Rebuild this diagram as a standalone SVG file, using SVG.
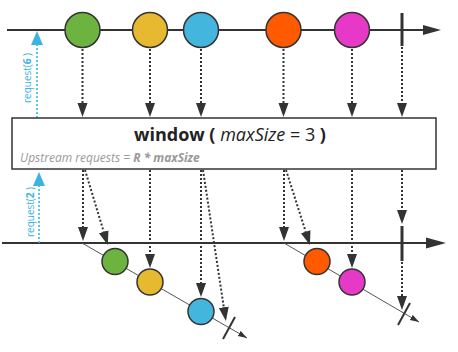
<svg xmlns="http://www.w3.org/2000/svg" width="458" height="352" viewBox="0 0 458 352">
<style>
.tl{stroke:#333;stroke-width:2;fill:none}
.dot{stroke:#333;stroke-width:2;stroke-dasharray:2 2;fill:none;marker-end:url(#ah)}
.req{stroke:#3cb4e2;stroke-width:1.6;stroke-dasharray:2 2;fill:none;marker-end:url(#ahc)}
.win{stroke:#555;stroke-width:1;fill:none;marker-end:url(#ahs)}
.bar{stroke:#333;stroke-width:3}
.slash{stroke:#333;stroke-width:2}
.c{stroke:#333;stroke-width:1.5}
.lbl{font-family:"Open Sans","DejaVu Sans",sans-serif;font-size:10px;fill:#3cb4e2}
</style>
<defs>
<marker id="ah" markerUnits="userSpaceOnUse" markerWidth="14" markerHeight="11" refX="0" refY="5" orient="auto"><path d="M0,0 L14,5 L0,10 z" fill="#333"/></marker>
<marker id="ahc" markerUnits="userSpaceOnUse" markerWidth="14" markerHeight="12" refX="0" refY="6" orient="auto"><path d="M0,0 L14,6 L0,12 z" fill="#3cb4e2"/></marker>
<marker id="ahs" markerUnits="userSpaceOnUse" markerWidth="10" markerHeight="7" refX="9" refY="3" orient="auto"><path d="M0,0 L9,3 L0,6 z" fill="#333"/></marker>
</defs>

<g id="connectors">
<line class="tl" x1="7" y1="30" x2="424" y2="30"/>
<polygon points="423,25 441,30 423,35" fill="#333"/>
<line class="tl" x1="2" y1="243" x2="427" y2="243"/>
<polygon points="426,237.5 446,243 426,248.5" fill="#333"/>
<line class="dot" x1="82.5" y1="49" x2="82.5" y2="103"/>
<line class="dot" x1="150" y1="49" x2="150" y2="103"/>
<line class="dot" x1="201" y1="49" x2="201" y2="103"/>
<line class="dot" x1="283.5" y1="49" x2="283.5" y2="103"/>
<line class="dot" x1="352" y1="49" x2="352" y2="103"/>
<line class="dot" x1="402" y1="47" x2="402" y2="103"/>
<line class="dot" x1="83" y1="170" x2="83" y2="227"/>
<line class="dot" x1="85" y1="170" x2="103.7" y2="231.7"/>
<line class="dot" x1="150" y1="170" x2="150" y2="254"/>
<line class="dot" x1="201" y1="170" x2="201" y2="283"/>
<line class="dot" x1="203" y1="170" x2="223.8" y2="307.2"/>
<line class="dot" x1="284" y1="170" x2="284" y2="227"/>
<line class="dot" x1="286" y1="170" x2="305.7" y2="231.7"/>
<line class="dot" x1="352" y1="170" x2="352" y2="254"/>
<line class="dot" x1="402" y1="170" x2="402" y2="210"/>
<line class="dot" x1="402" y1="262" x2="402" y2="296"/>
<line class="req" x1="37" y1="118" x2="37" y2="45"/>
<line class="req" x1="39" y1="243" x2="39" y2="186"/>
<line class="win" x1="82" y1="243" x2="247" y2="338"/>
<line class="win" x1="284" y1="243" x2="419" y2="322"/>
<line class="bar" x1="402" y1="13" x2="402" y2="46"/>
<line class="bar" x1="402" y1="226" x2="402" y2="261"/>
<line class="slash" x1="223" y1="339" x2="235" y2="317"/>
<line class="slash" x1="398" y1="325" x2="410" y2="303"/>
</g>

<g id="src-green"><circle class="c" cx="82.5" cy="30" r="17.5" fill="#6db33f"/></g>
<g id="src-yellow"><circle class="c" cx="150" cy="30" r="17.5" fill="#e6b931"/></g>
<g id="src-blue"><circle class="c" cx="201" cy="30" r="17.5" fill="#44b5dd"/></g>
<g id="src-orange"><circle class="c" cx="283.5" cy="30" r="17.5" fill="#ff5a00"/></g>
<g id="src-magenta"><circle class="c" cx="352" cy="30" r="17.5" fill="#e639c8"/></g>

<g id="operator">
<rect x="12" y="118" width="424" height="51" fill="#fff" stroke="#333" stroke-width="1.5"/>
<text x="230" y="141" text-anchor="middle" font-family="Open Sans, DejaVu Sans, sans-serif" font-size="18" fill="#222"><tspan font-weight="bold">window (</tspan> <tspan font-style="italic">maxSize</tspan> = 3 <tspan font-weight="bold">)</tspan></text>
<text x="20" y="162" font-family="Open Sans, DejaVu Sans, sans-serif" font-size="12" font-style="italic" fill="#999">Upstream requests = <tspan font-weight="bold">R * maxSize</tspan></text>
</g>

<g id="request6"><text class="lbl" transform="translate(31,78) rotate(-90)" text-anchor="middle">request(<tspan font-weight="bold">6</tspan> )</text></g>
<g id="request2"><text class="lbl" transform="translate(34,212) rotate(-90)" text-anchor="middle">request(<tspan font-weight="bold">2</tspan> )</text></g>

<g id="out-green"><circle class="c" cx="115" cy="261.5" r="13" fill="#6db33f"/></g>
<g id="out-yellow"><circle class="c" cx="150" cy="282" r="13" fill="#e6b931"/></g>
<g id="out-blue"><circle class="c" cx="201" cy="311.5" r="13" fill="#44b5dd"/></g>
<g id="out-orange"><circle class="c" cx="317" cy="261.5" r="13" fill="#ff5a00"/></g>
<g id="out-magenta"><circle class="c" cx="352" cy="282" r="13" fill="#e639c8"/></g>
</svg>
